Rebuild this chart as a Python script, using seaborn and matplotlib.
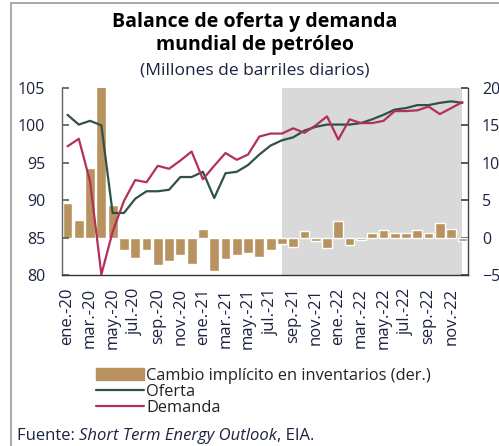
import numpy as np
import pandas as pd
import matplotlib.pyplot as plt
import matplotlib.patches as mpatches
from matplotlib.lines import Line2D
import seaborn as sns

sns.set_theme(style="white")
plt.rcParams["font.family"] = ["Open Sans", "DejaVu Sans"]

# data (millones de barriles diarios)
meses = ["ene.", "feb.", "mar.", "abr.", "may.", "jun.", "jul.", "ago.",
         "sep.", "oct.", "nov.", "dic."]
labels = [f"{m}-{a}" for a in ["20", "21", "22"] for m in meses]

oferta = [101.4, 100.1, 100.6, 100.0, 88.3, 88.3, 90.2, 91.2, 91.2, 91.4, 93.1, 93.1,
          93.8, 90.3, 93.6, 93.8, 94.7, 96.1, 97.3, 98.0, 98.4, 99.3, 99.8, 100.1,
          100.1, 100.1, 100.3, 100.8, 101.4, 102.1, 102.3, 102.7, 102.7, 103.0, 103.2, 103.0]
demanda = [97.2, 98.2, 92.5, 80.1, 85.8, 89.9, 92.7, 92.4, 94.6, 94.2, 95.3, 96.5,
           92.8, 94.6, 96.3, 95.4, 96.1, 98.5, 98.9, 98.9, 99.6, 99.0, 100.0, 101.2,
           98.1, 100.8, 100.3, 100.3, 100.6, 101.9, 101.9, 102.0, 102.5, 101.5, 102.3, 103.1]
inventarios = [4.6, 2.3, 9.3, 20.2, 4.4, -1.6, -2.7, -1.6, -3.6, -3.1, -2.3, -3.5,
               1.2, -4.4, -2.9, -2.3, -2.1, -2.6, -1.7, -0.8, -1.3, 0.9, -0.5, -1.4,
               2.2, -1.0, -0.3, 0.6, 1.0, 0.6, 0.6, 1.0, 0.6, 1.9, 1.1, -0.5]

df = pd.DataFrame({"mes": labels, "oferta": oferta, "demanda": demanda,
                   "inventarios": inventarios})
df["idx"] = np.arange(len(df))

c_bar = "#b8925f"
c_of = "#2f5245"
c_de = "#b3305a"
c_txt = "#1c2340"

fig = plt.figure(figsize=(4.99, 4.46), dpi=100)
ax = fig.add_axes([0.124, 0.383, 0.814, 0.420])
ax2 = ax.twinx()

# bars on the right axis
sns.barplot(data=df, x="mes", y="inventarios", color=c_bar, saturation=1,
            width=0.87, ax=ax2, zorder=2)
ax2.axvspan(19, 35, color="#d9d9d9", zorder=0, lw=0)
ax2.set_ylim(-5, 20)
ax2.set_yticks([-5, 0, 5, 10, 15, 20])

# lines on the left axis, drawn above the bars
ax.set_zorder(ax2.get_zorder() + 1)
ax.patch.set_visible(False)
sns.lineplot(data=df, x="idx", y="oferta", color=c_of, lw=1.6, ax=ax)
sns.lineplot(data=df, x="idx", y="demanda", color=c_de, lw=1.6, ax=ax)
ax.set_ylim(80, 105)
ax.set_xlim(-0.5, 35.5)
ax.set_yticks([80, 85, 90, 95, 100, 105])

ax.set_xticks(np.arange(0, 36, 2))
ax.set_xticklabels(labels[::2], rotation=90)
ax.set_xticks(np.arange(-0.5, 36, 2), minor=True)
ax.tick_params(axis="x", which="major", length=0, pad=9, labelsize=12, labelcolor=c_txt)
ax.tick_params(axis="x", which="minor", length=7, direction="inout", color="#333333", width=1)
ax.tick_params(axis="y", direction="in", length=5, color="#55665f", pad=12,
               labelsize=11.5, labelcolor=c_txt)
ax2.tick_params(axis="y", direction="in", length=5, color="#444444", pad=10,
                labelsize=11.5, labelcolor=c_txt)
ax2.tick_params(axis="x", length=0)
ax.set_xlabel("")
ax.set_ylabel("")
ax2.set_xlabel("")
ax2.set_ylabel("")

for a in (ax, ax2):
    a.spines["top"].set_visible(False)
    for s in ("left", "right", "bottom"):
        a.spines[s].set_linewidth(1)
ax.spines["left"].set_color("#55665f")
ax2.spines["right"].set_color("#444444")
ax.spines["bottom"].set_color("#333333")
ax2.spines["bottom"].set_visible(False)
ax.spines["right"].set_visible(False)
ax2.spines["left"].set_visible(False)

# titles
fig.text(0.511, 0.951, "Balance de oferta y demanda", ha="center", va="center",
         fontsize=14, fontweight="bold", color="black")
fig.text(0.511, 0.898, "mundial de petróleo", ha="center", va="center",
         fontsize=14, fontweight="bold", color="black")
fig.text(0.511, 0.843, "(Millones de barriles diarios)", ha="center", va="center",
         fontsize=12.5, color=c_txt)

# legend
handles = [mpatches.Patch(color=c_bar), Line2D([], [], color=c_of, lw=1.6),
           Line2D([], [], color=c_de, lw=1.6)]
fig.legend(handles, ["Cambio implícito en inventarios (der.)", "Oferta", "Demanda"],
           loc="upper left", bbox_to_anchor=(0.180, 0.190), frameon=False,
           fontsize=11.8, handlelength=2.9, handleheight=0.8, handletextpad=0.15,
           labelspacing=0.0, borderaxespad=0, labelcolor="#222222")

# source line, pieces placed one after another
renderer = fig.canvas.get_renderer()
x0 = 0.034
for txt, st in [("Fuente: ", "normal"), ("Short Term Energy Outlook", "italic"),
                (", EIA.", "normal")]:
    t = fig.text(x0, 0.022, txt, ha="left", va="center", fontsize=12,
                 style=st, color=c_txt)
    bb = t.get_window_extent(renderer=renderer)
    x0 += bb.width / fig.bbox.width

# outer frame
fig.patches.append(mpatches.Rectangle((0.022, -0.1), 1.1, 1.093, transform=fig.transFigure,
                                      fill=False, edgecolor="#999999", lw=1.2))

fig.savefig("out.png", dpi=100)
